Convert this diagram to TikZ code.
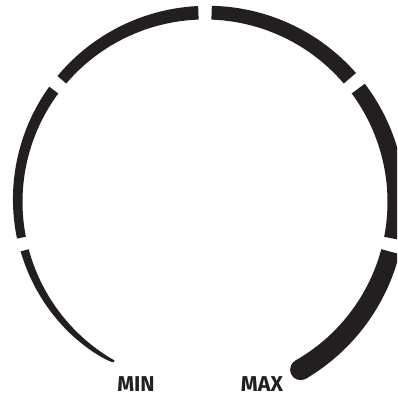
\documentclass[tikz,border=0pt]{standalone}
\usepackage{fontspec}
\setmainfont{Fira Sans}
\definecolor{ink}{HTML}{231F20}
\newcommand\rin{182.5}
\newcommand\gcx{205}
\newcommand\gcy{202}
% linear width segment: start angle, end angle, start width, end width
\newcommand\gaugeseg[4]{%
  \fill[gauge] plot[domain=#1:#2, samples=60, variable=\t]
    ({\gcx+\rin*cos(\t)}, {\gcy-\rin*sin(\t)})
  -- plot[domain=#2:#1, samples=60, variable=\t]
    ({\gcx+(\rin+#3+(#4-#3)*(\t-#1)/(#2-#1))*cos(\t)},
     {\gcy-(\rin+#3+(#4-#3)*(\t-#1)/(#2-#1))*sin(\t)})
  -- cycle;}
\begin{document}
\begin{tikzpicture}[x=1pt,y=-1pt,
  gauge/.style={fill=ink},
  label/.style={text=ink, font=\bfseries\fontsize{21.5}{22}\selectfont, inner sep=0pt}]
\useasboundingbox (0,0) rectangle (397,397);
\clip (0,0) rectangle (397,397);
% MIN segment (tapered)
\fill[gauge] plot[domain=240.3:195, samples=80, variable=\t]
    ({\gcx+\rin*cos(\t)}, {\gcy-\rin*sin(\t)})
  -- plot[domain=195:240.3, samples=80, variable=\t]
    ({\gcx+(\rin+2+6.5*sqrt(max(240.3-\t,0)/47))*cos(\t)},
     {\gcy-(\rin+2+6.5*sqrt(max(240.3-\t,0)/47))*sin(\t)})
  -- cycle;
\gaugeseg{191}{143.5}{9}{11.3}
\gaugeseg{139.5}{92}{11.5}{13.6}
\gaugeseg{88}{40.5}{13.8}{16.1}
\gaugeseg{36.5}{-11}{16.3}{18.5}
\gaugeseg{-15}{-60.3}{18.7}{21}
% round cap at MAX end
\coordinate (capc) at ({\gcx+(\rin+10.5)*cos(-60.3)}, {\gcy-(\rin+10.5)*sin(-60.3)});
\fill[gauge] (capc) circle (10.5);
\node[label] (min) at (136,384.5) {MIN};
\node[label] (max) at (262,384.5) {MAX};
\end{tikzpicture}
\end{document}
